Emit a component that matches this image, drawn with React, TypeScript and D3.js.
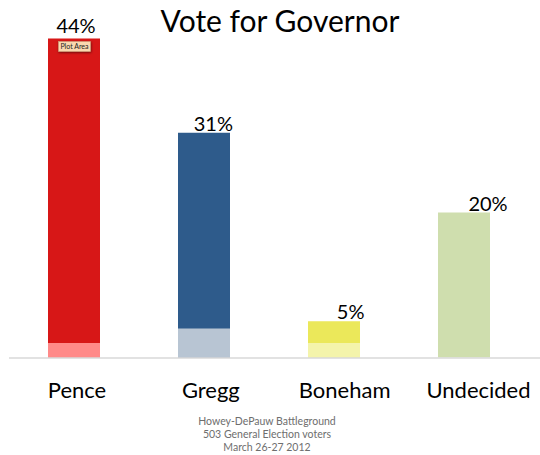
import React from "react";
import * as d3 from "d3";

const categories = ["Pence", "Gregg", "Boneham", "Undecided"];
const totals = [44, 31, 5, 20];
const lightPart = [2, 4, 2, 0];
const mainColors = ["#d71717", "#2e5b8b", "#ebe85a", "#cfdeae"];
const lightColors = ["#ff8a89", "#b8c5d3", "#f4f4ab", "#cfdeae"];
const footnote = ["Howey-DePauw Battleground", "503 General Election voters", "March 26-27 2012"];
const title = "Vote for Governor";

export default function App() {
  const W = 540, H = 455;
  const x = d3.scaleBand<string>().domain(categories).range([9, 529]).paddingInner(0.6).paddingOuter(0.3);
  const y = d3.scaleLinear().domain([0, 44]).range([357.5, 38.5]);
  const catX = d3.scalePoint<string>().domain(categories).range([77, 478.5]);
  const valX = d3.scalePoint<string>().domain(categories).range([76, 488]);
  const maxV = d3.max(totals) as number;
  const font = "Lato, 'Open Sans', sans-serif";
  return (
    <svg width={W} height={H} style={{ position: "absolute", left: 0, top: 0, background: "#fff" }}>
      <defs>
        <filter id="sh" x="-20%" y="-20%" width="150%" height="180%">
          <feDropShadow dx="0.5" dy="1" stdDeviation="0.8" floodColor="#000" floodOpacity="0.5" />
        </filter>
      </defs>
      <text x={280} y={32} textAnchor="middle" fontFamily={font} fontSize={30} fill="#000">{title}</text>
      {categories.map((c, i) => {
        const x0 = x(c) as number;
        const bw = x.bandwidth();
        return (
          <g key={c}>
            <rect x={x0} y={y(totals[i])} width={bw} height={y(0) - y(totals[i])} fill={mainColors[i]} />
            {lightPart[i] > 0 && (
              <rect x={x0} y={y(lightPart[i])} width={bw} height={y(0) - y(lightPart[i])} fill={lightColors[i]} />
            )}
            <text x={valX(c)} y={y(totals[i]) - 2 - (totals[i] === maxV ? 4 : 0)} textAnchor="middle" fontFamily={font} fontSize={20} fill="#000">{totals[i]}%</text>
            <text x={catX(c)} y={398} textAnchor="middle" fontFamily={font} fontSize={22} fill="#000">{c}</text>
          </g>
        );
      })}
      <line x1={9} x2={540} y1={358} y2={358} stroke="#d9d9d9" strokeWidth={1.5} />
      <g filter="url(#sh)">
        <rect x={58.5} y={41.5} width={32} height={10} fill="#fad9b0" stroke="#c9a27a" strokeWidth={0.5} />
      </g>
      <text x={74.5} y={49} textAnchor="middle" fontFamily={font} fontSize={7} fill="#222">Plot Area</text>
      {footnote.map((t, i) => (
        <text key={t} x={267} y={425 + i * 13} textAnchor="middle" fontFamily={font} fontSize={10.5} fill="#6e6e6e">{t}</text>
      ))}
    </svg>
  );
}
